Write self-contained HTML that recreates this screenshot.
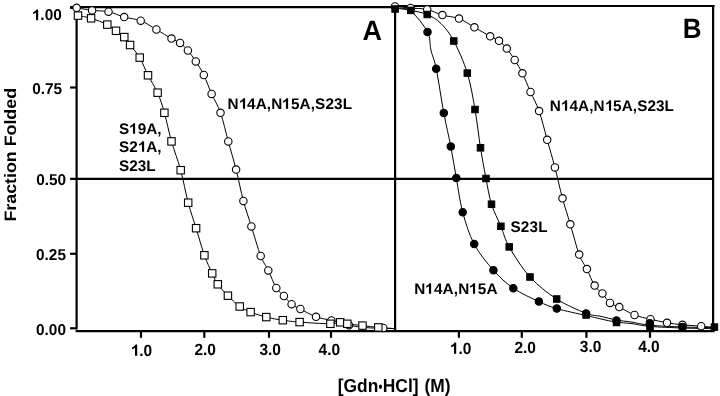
<!DOCTYPE html>
<html><head><meta charset="utf-8"><style>
html,body{margin:0;padding:0;background:#fff;}
body{width:720px;height:396px;position:relative;overflow:hidden;font-family:"Liberation Sans",sans-serif;font-weight:bold;color:#000;filter:grayscale(1) blur(0.3px);text-rendering:geometricPrecision;}
.t{position:absolute;white-space:nowrap;line-height:1;transform-origin:0 0;}
.k{-webkit-text-stroke:0.2px #fff;}
</style></head><body>
<svg width="720" height="396" viewBox="0 0 720 396" style="position:absolute;left:0;top:0">
<path d="M76.60,7.80 C79.18,8.23 86.78,9.75 92.10,10.40 C97.42,11.05 103.15,10.58 108.50,11.70 C113.85,12.82 118.83,15.60 124.20,17.10 C129.57,18.60 135.33,18.63 140.70,20.70 C146.07,22.77 151.27,26.52 156.40,29.50 C161.53,32.48 167.55,36.37 171.50,38.60 C175.45,40.83 177.37,40.92 180.10,42.90 C182.83,44.88 185.28,47.42 187.90,50.50 C190.52,53.58 193.15,57.32 195.80,61.40 C198.45,65.48 201.17,69.58 203.80,75.00 C206.43,80.42 208.82,87.60 211.60,93.90 C214.38,100.20 217.72,104.88 220.50,112.80 C223.28,120.72 225.70,131.93 228.30,141.40 C230.90,150.87 233.58,159.68 236.10,169.60 C238.62,179.52 240.85,191.43 243.40,200.90 C245.95,210.37 248.52,217.22 251.40,226.40 C254.28,235.58 257.88,248.67 260.70,256.00 C263.52,263.33 265.70,265.07 268.30,270.40 C270.90,275.73 273.70,283.73 276.30,288.00 C278.90,292.27 281.35,293.30 283.90,296.00 C286.45,298.70 288.85,302.03 291.60,304.20 C294.35,306.37 296.33,306.90 300.40,309.00 C304.47,311.10 310.83,314.90 316.00,316.80 C321.17,318.70 325.90,319.00 331.40,320.40 C336.90,321.80 343.23,324.00 349.00,325.20 C354.77,326.40 360.28,327.08 366.00,327.60 C371.72,328.12 378.47,328.13 383.30,328.30 C388.13,328.47 393.05,328.55 395.00,328.60" fill="none" stroke="#000" stroke-width="1"/>
<path d="M78.00,15.60 C80.18,16.05 86.22,16.80 91.10,18.30 C95.98,19.80 103.15,22.52 107.30,24.60 C111.45,26.68 113.17,28.72 116.00,30.80 C118.83,32.88 121.95,34.73 124.30,37.10 C126.65,39.47 127.53,41.58 130.10,45.00 C132.67,48.42 136.72,52.55 139.70,57.60 C142.68,62.65 145.02,69.45 148.00,75.30 C150.98,81.15 154.87,86.45 157.60,92.70 C160.33,98.95 162.08,104.68 164.40,112.80 C166.72,120.92 168.78,131.83 171.50,141.40 C174.22,150.97 177.92,159.98 180.70,170.20 C183.48,180.42 185.63,193.03 188.20,202.70 C190.77,212.37 193.40,219.43 196.10,228.20 C198.80,236.97 201.72,247.77 204.40,255.30 C207.08,262.83 209.97,268.57 212.20,273.40 C214.43,278.23 215.18,280.58 217.80,284.30 C220.42,288.02 224.25,292.00 227.90,295.70 C231.55,299.40 235.92,303.77 239.70,306.50 C243.48,309.23 246.17,310.33 250.60,312.10 C255.03,313.87 260.93,315.75 266.30,317.10 C271.67,318.45 277.25,319.37 282.80,320.20 C288.35,321.03 291.67,321.50 299.60,322.10 C307.53,322.70 323.63,323.77 330.40,323.80 C337.17,323.83 337.38,322.30 340.20,322.30 C343.02,322.30 343.58,323.25 347.30,323.80 C351.02,324.35 357.33,325.00 362.50,325.60 C367.67,326.20 372.88,326.90 378.30,327.40 C383.72,327.90 392.22,328.40 395.00,328.60" fill="none" stroke="#000" stroke-width="1"/>
<path d="M395.00,6.40 C397.58,6.67 405.13,7.48 410.50,8.00 C415.87,8.52 421.88,8.32 427.20,9.50 C432.52,10.68 437.10,13.58 442.40,15.10 C447.70,16.62 453.67,16.57 459.00,18.60 C464.33,20.63 469.20,24.35 474.40,27.30 C479.60,30.25 486.10,34.05 490.20,36.30 C494.30,38.55 496.23,38.75 499.00,40.80 C501.77,42.85 504.18,45.40 506.80,48.60 C509.42,51.80 512.10,55.88 514.70,60.00 C517.30,64.12 519.77,67.97 522.40,73.30 C525.03,78.63 527.72,85.70 530.50,92.00 C533.28,98.30 536.32,103.13 539.10,111.10 C541.88,119.07 544.57,130.42 547.20,139.80 C549.83,149.18 552.35,157.65 554.90,167.40 C557.45,177.15 559.93,188.82 562.50,198.30 C565.07,207.78 567.52,214.92 570.30,224.30 C573.08,233.68 576.43,247.13 579.20,254.60 C581.97,262.07 584.33,263.93 586.90,269.10 C589.47,274.27 592.02,281.55 594.60,285.60 C597.18,289.65 599.83,290.52 602.40,293.40 C604.97,296.28 607.18,300.62 610.00,302.90 C612.82,305.18 615.22,305.08 619.30,307.10 C623.38,309.12 629.30,312.98 634.50,315.00 C639.70,317.02 645.08,317.90 650.50,319.20 C655.92,320.50 661.67,321.87 667.00,322.80 C672.33,323.73 676.80,324.23 682.50,324.80 C688.20,325.37 695.62,325.75 701.20,326.20 C706.78,326.65 713.53,327.28 716.00,327.50" fill="none" stroke="#000" stroke-width="1"/>
<path d="M395.10,8.00 C397.72,8.40 405.45,9.32 410.80,10.40 C416.15,11.48 422.17,12.30 427.20,14.50 C432.23,16.70 436.57,19.18 441.00,23.60 C445.43,28.02 449.42,32.75 453.80,41.00 C458.18,49.25 463.77,61.68 467.30,73.10 C470.83,84.52 472.80,97.05 475.00,109.50 C477.20,121.95 478.67,136.30 480.50,147.80 C482.33,159.30 484.17,169.10 486.00,178.50 C487.83,187.90 489.02,196.23 491.50,204.20 C493.98,212.17 497.95,219.18 500.90,226.30 C503.85,233.42 504.35,238.45 509.20,246.90 C514.05,255.35 522.08,268.32 530.00,277.00 C537.92,285.68 547.35,292.95 556.70,299.00 C566.05,305.05 578.72,310.40 586.10,313.30 C593.48,316.20 595.93,315.28 601.00,316.40 C606.07,317.52 611.50,319.07 616.50,320.00 C621.50,320.93 625.42,321.13 631.00,322.00 C636.58,322.87 641.42,324.37 650.00,325.20 C658.58,326.03 671.77,326.60 682.50,327.00 C693.23,327.40 709.08,327.50 714.40,327.60" fill="none" stroke="#000" stroke-width="1"/>
<path d="M395.00,8.00 C397.58,8.50 405.08,7.02 410.50,11.00 C415.92,14.98 424.10,25.40 427.50,31.90 C430.90,38.40 429.45,43.87 430.90,50.00 C432.35,56.13 434.05,58.22 436.20,68.70 C438.35,79.18 441.37,99.92 443.80,112.90 C446.23,125.88 448.72,135.77 450.80,146.60 C452.88,157.43 454.32,166.97 456.30,177.90 C458.28,188.83 459.72,201.17 462.70,212.20 C465.68,223.23 469.08,234.43 474.20,244.10 C479.32,253.77 486.88,262.85 493.40,270.20 C499.92,277.55 505.72,282.97 513.30,288.20 C520.88,293.43 531.65,298.20 538.90,301.60 C546.15,305.00 548.93,306.28 556.80,308.60 C564.67,310.92 578.73,313.77 586.10,315.50 C593.47,317.23 595.93,317.88 601.00,319.00 C606.07,320.12 611.50,321.45 616.50,322.20 C621.50,322.95 625.42,322.80 631.00,323.50 C636.58,324.20 641.42,325.65 650.00,326.40 C658.58,327.15 671.77,327.63 682.50,328.00 C693.23,328.37 709.08,328.50 714.40,328.60" fill="none" stroke="#000" stroke-width="1"/>
<g stroke="#000" stroke-width="2.2" fill="none">
<line x1="76.6" y1="6.2" x2="76.6" y2="329.3"/>
<line x1="70.1" y1="7.2" x2="395" y2="7.2"/>
<line x1="395" y1="6" x2="714.5" y2="6"/>
<line x1="395.1" y1="5" x2="395.1" y2="331"/>
<line x1="713.1" y1="5" x2="713.1" y2="332"/>
<line x1="75.6" y1="331.2" x2="714.5" y2="331.2"/>
<line x1="70.1" y1="178.85" x2="714" y2="178.85"/>
<line x1="70.1" y1="7.9" x2="77" y2="7.9"/>
<line x1="70.1" y1="87.5" x2="77" y2="87.5"/>
<line x1="70.1" y1="253.8" x2="77" y2="253.8"/>
<line x1="70.1" y1="328.3" x2="77" y2="328.3"/>
<line x1="141.0" y1="331" x2="141.0" y2="337.8"/>
<line x1="204.3" y1="331" x2="204.3" y2="337.8"/>
<line x1="269.0" y1="331" x2="269.0" y2="337.8"/>
<line x1="331.0" y1="331" x2="331.0" y2="337.8"/>
<line x1="458.9" y1="331" x2="458.9" y2="337.8"/>
<line x1="521.8" y1="331" x2="521.8" y2="337.8"/>
<line x1="586.4" y1="331" x2="586.4" y2="337.8"/>
<line x1="650.0" y1="331" x2="650.0" y2="337.8"/>
</g>
<circle cx="76.6" cy="7.8" r="3.70" fill="#fff" stroke="#000" stroke-width="1.10"/><circle cx="92.1" cy="10.4" r="3.70" fill="#fff" stroke="#000" stroke-width="1.10"/><circle cx="108.5" cy="11.7" r="3.70" fill="#fff" stroke="#000" stroke-width="1.10"/><circle cx="124.2" cy="17.1" r="3.70" fill="#fff" stroke="#000" stroke-width="1.10"/><circle cx="140.7" cy="20.7" r="3.70" fill="#fff" stroke="#000" stroke-width="1.10"/><circle cx="156.4" cy="29.5" r="3.70" fill="#fff" stroke="#000" stroke-width="1.10"/><circle cx="171.5" cy="38.6" r="3.70" fill="#fff" stroke="#000" stroke-width="1.10"/><circle cx="180.1" cy="42.9" r="3.70" fill="#fff" stroke="#000" stroke-width="1.10"/><circle cx="187.9" cy="50.5" r="3.70" fill="#fff" stroke="#000" stroke-width="1.10"/><circle cx="195.8" cy="61.4" r="3.70" fill="#fff" stroke="#000" stroke-width="1.10"/><circle cx="203.8" cy="75.0" r="3.70" fill="#fff" stroke="#000" stroke-width="1.10"/><circle cx="211.6" cy="93.9" r="3.70" fill="#fff" stroke="#000" stroke-width="1.10"/><circle cx="220.5" cy="112.8" r="3.70" fill="#fff" stroke="#000" stroke-width="1.10"/><circle cx="228.3" cy="141.4" r="3.70" fill="#fff" stroke="#000" stroke-width="1.10"/><circle cx="236.1" cy="169.6" r="3.70" fill="#fff" stroke="#000" stroke-width="1.10"/><circle cx="243.4" cy="200.9" r="3.70" fill="#fff" stroke="#000" stroke-width="1.10"/><circle cx="251.4" cy="226.4" r="3.70" fill="#fff" stroke="#000" stroke-width="1.10"/><circle cx="260.7" cy="256.0" r="3.70" fill="#fff" stroke="#000" stroke-width="1.10"/><circle cx="268.3" cy="270.4" r="3.70" fill="#fff" stroke="#000" stroke-width="1.10"/><circle cx="276.3" cy="288.0" r="3.70" fill="#fff" stroke="#000" stroke-width="1.10"/><circle cx="283.9" cy="296.0" r="3.70" fill="#fff" stroke="#000" stroke-width="1.10"/><circle cx="291.6" cy="304.2" r="3.70" fill="#fff" stroke="#000" stroke-width="1.10"/><circle cx="300.4" cy="309.0" r="3.70" fill="#fff" stroke="#000" stroke-width="1.10"/><circle cx="316.0" cy="316.8" r="3.70" fill="#fff" stroke="#000" stroke-width="1.10"/><circle cx="331.4" cy="320.4" r="3.70" fill="#fff" stroke="#000" stroke-width="1.10"/><circle cx="349.0" cy="325.2" r="3.70" fill="#fff" stroke="#000" stroke-width="1.10"/><circle cx="383.3" cy="328.0" r="3.70" fill="#fff" stroke="#000" stroke-width="1.10"/>
<rect x="74.30" y="11.90" width="7.40" height="7.40" fill="#fff" stroke="#000" stroke-width="1.10"/><rect x="87.40" y="14.60" width="7.40" height="7.40" fill="#fff" stroke="#000" stroke-width="1.10"/><rect x="103.60" y="20.90" width="7.40" height="7.40" fill="#fff" stroke="#000" stroke-width="1.10"/><rect x="112.30" y="27.10" width="7.40" height="7.40" fill="#fff" stroke="#000" stroke-width="1.10"/><rect x="120.60" y="33.40" width="7.40" height="7.40" fill="#fff" stroke="#000" stroke-width="1.10"/><rect x="126.40" y="41.30" width="7.40" height="7.40" fill="#fff" stroke="#000" stroke-width="1.10"/><rect x="136.00" y="53.90" width="7.40" height="7.40" fill="#fff" stroke="#000" stroke-width="1.10"/><rect x="144.30" y="71.60" width="7.40" height="7.40" fill="#fff" stroke="#000" stroke-width="1.10"/><rect x="153.90" y="89.00" width="7.40" height="7.40" fill="#fff" stroke="#000" stroke-width="1.10"/><rect x="160.70" y="109.10" width="7.40" height="7.40" fill="#fff" stroke="#000" stroke-width="1.10"/><rect x="167.80" y="137.70" width="7.40" height="7.40" fill="#fff" stroke="#000" stroke-width="1.10"/><rect x="177.00" y="166.50" width="7.40" height="7.40" fill="#fff" stroke="#000" stroke-width="1.10"/><rect x="184.50" y="199.00" width="7.40" height="7.40" fill="#fff" stroke="#000" stroke-width="1.10"/><rect x="192.40" y="224.50" width="7.40" height="7.40" fill="#fff" stroke="#000" stroke-width="1.10"/><rect x="200.70" y="251.60" width="7.40" height="7.40" fill="#fff" stroke="#000" stroke-width="1.10"/><rect x="208.50" y="269.70" width="7.40" height="7.40" fill="#fff" stroke="#000" stroke-width="1.10"/><rect x="214.10" y="280.60" width="7.40" height="7.40" fill="#fff" stroke="#000" stroke-width="1.10"/><rect x="224.20" y="292.00" width="7.40" height="7.40" fill="#fff" stroke="#000" stroke-width="1.10"/><rect x="236.00" y="302.80" width="7.40" height="7.40" fill="#fff" stroke="#000" stroke-width="1.10"/><rect x="246.90" y="308.40" width="7.40" height="7.40" fill="#fff" stroke="#000" stroke-width="1.10"/><rect x="262.60" y="313.40" width="7.40" height="7.40" fill="#fff" stroke="#000" stroke-width="1.10"/><rect x="279.10" y="316.50" width="7.40" height="7.40" fill="#fff" stroke="#000" stroke-width="1.10"/><rect x="295.90" y="318.40" width="7.40" height="7.40" fill="#fff" stroke="#000" stroke-width="1.10"/><rect x="326.70" y="320.10" width="7.40" height="7.40" fill="#fff" stroke="#000" stroke-width="1.10"/><rect x="336.50" y="318.60" width="7.40" height="7.40" fill="#fff" stroke="#000" stroke-width="1.10"/><rect x="343.60" y="320.10" width="7.40" height="7.40" fill="#fff" stroke="#000" stroke-width="1.10"/><rect x="358.80" y="321.90" width="7.40" height="7.40" fill="#fff" stroke="#000" stroke-width="1.10"/><rect x="374.60" y="323.70" width="7.40" height="7.40" fill="#fff" stroke="#000" stroke-width="1.10"/>
<circle cx="395.0" cy="6.4" r="3.70" fill="#fff" stroke="#000" stroke-width="1.10"/><circle cx="410.5" cy="8.0" r="3.70" fill="#fff" stroke="#000" stroke-width="1.10"/><circle cx="427.2" cy="9.5" r="3.70" fill="#fff" stroke="#000" stroke-width="1.10"/><circle cx="442.4" cy="15.1" r="3.70" fill="#fff" stroke="#000" stroke-width="1.10"/><circle cx="459.0" cy="18.6" r="3.70" fill="#fff" stroke="#000" stroke-width="1.10"/><circle cx="474.4" cy="27.3" r="3.70" fill="#fff" stroke="#000" stroke-width="1.10"/><circle cx="490.2" cy="36.3" r="3.70" fill="#fff" stroke="#000" stroke-width="1.10"/><circle cx="499.0" cy="40.8" r="3.70" fill="#fff" stroke="#000" stroke-width="1.10"/><circle cx="506.8" cy="48.6" r="3.70" fill="#fff" stroke="#000" stroke-width="1.10"/><circle cx="514.7" cy="60.0" r="3.70" fill="#fff" stroke="#000" stroke-width="1.10"/><circle cx="522.4" cy="73.3" r="3.70" fill="#fff" stroke="#000" stroke-width="1.10"/><circle cx="530.5" cy="92.0" r="3.70" fill="#fff" stroke="#000" stroke-width="1.10"/><circle cx="539.1" cy="111.1" r="3.70" fill="#fff" stroke="#000" stroke-width="1.10"/><circle cx="547.2" cy="139.8" r="3.70" fill="#fff" stroke="#000" stroke-width="1.10"/><circle cx="554.9" cy="167.4" r="3.70" fill="#fff" stroke="#000" stroke-width="1.10"/><circle cx="562.5" cy="198.3" r="3.70" fill="#fff" stroke="#000" stroke-width="1.10"/><circle cx="570.3" cy="224.3" r="3.70" fill="#fff" stroke="#000" stroke-width="1.10"/><circle cx="579.2" cy="254.6" r="3.70" fill="#fff" stroke="#000" stroke-width="1.10"/><circle cx="586.9" cy="269.1" r="3.70" fill="#fff" stroke="#000" stroke-width="1.10"/><circle cx="594.6" cy="285.6" r="3.70" fill="#fff" stroke="#000" stroke-width="1.10"/><circle cx="602.4" cy="293.4" r="3.70" fill="#fff" stroke="#000" stroke-width="1.10"/><circle cx="610.0" cy="302.9" r="3.70" fill="#fff" stroke="#000" stroke-width="1.10"/><circle cx="619.3" cy="307.1" r="3.70" fill="#fff" stroke="#000" stroke-width="1.10"/><circle cx="634.5" cy="315.0" r="3.70" fill="#fff" stroke="#000" stroke-width="1.10"/><circle cx="650.5" cy="319.2" r="3.70" fill="#fff" stroke="#000" stroke-width="1.10"/><circle cx="667.0" cy="322.8" r="3.70" fill="#fff" stroke="#000" stroke-width="1.10"/><circle cx="682.5" cy="324.8" r="3.70" fill="#fff" stroke="#000" stroke-width="1.10"/><circle cx="701.2" cy="326.2" r="3.70" fill="#fff" stroke="#000" stroke-width="1.10"/>
<circle cx="427.5" cy="31.9" r="3.70" fill="#000" stroke="#000" stroke-width="1.10"/><circle cx="436.2" cy="68.7" r="3.70" fill="#000" stroke="#000" stroke-width="1.10"/><circle cx="443.8" cy="112.9" r="3.70" fill="#000" stroke="#000" stroke-width="1.10"/><circle cx="450.8" cy="146.6" r="3.70" fill="#000" stroke="#000" stroke-width="1.10"/><circle cx="456.3" cy="177.9" r="3.70" fill="#000" stroke="#000" stroke-width="1.10"/><circle cx="462.7" cy="212.2" r="3.70" fill="#000" stroke="#000" stroke-width="1.10"/><circle cx="474.2" cy="244.1" r="3.70" fill="#000" stroke="#000" stroke-width="1.10"/><circle cx="493.4" cy="270.2" r="3.70" fill="#000" stroke="#000" stroke-width="1.10"/><circle cx="513.3" cy="288.2" r="3.70" fill="#000" stroke="#000" stroke-width="1.10"/><circle cx="538.9" cy="301.6" r="3.70" fill="#000" stroke="#000" stroke-width="1.10"/><circle cx="556.8" cy="308.6" r="3.70" fill="#000" stroke="#000" stroke-width="1.10"/><circle cx="586.1" cy="313.4" r="3.70" fill="#000" stroke="#000" stroke-width="1.10"/><circle cx="616.5" cy="320.5" r="3.70" fill="#000" stroke="#000" stroke-width="1.10"/><circle cx="649.8" cy="323.2" r="3.70" fill="#000" stroke="#000" stroke-width="1.10"/><circle cx="682.5" cy="327.0" r="3.70" fill="#000" stroke="#000" stroke-width="1.10"/>
<rect x="391.85" y="5.75" width="6.50" height="6.50" fill="#000" stroke="#000" stroke-width="1.00"/><rect x="407.55" y="7.15" width="6.50" height="6.50" fill="#000" stroke="#000" stroke-width="1.00"/><rect x="423.95" y="11.25" width="6.50" height="6.50" fill="#000" stroke="#000" stroke-width="1.00"/><rect x="450.55" y="37.75" width="6.50" height="6.50" fill="#000" stroke="#000" stroke-width="1.00"/><rect x="464.05" y="69.85" width="6.50" height="6.50" fill="#000" stroke="#000" stroke-width="1.00"/><rect x="471.75" y="106.25" width="6.50" height="6.50" fill="#000" stroke="#000" stroke-width="1.00"/><rect x="477.25" y="144.55" width="6.50" height="6.50" fill="#000" stroke="#000" stroke-width="1.00"/><rect x="482.75" y="175.25" width="6.50" height="6.50" fill="#000" stroke="#000" stroke-width="1.00"/><rect x="488.25" y="200.95" width="6.50" height="6.50" fill="#000" stroke="#000" stroke-width="1.00"/><rect x="497.65" y="223.05" width="6.50" height="6.50" fill="#000" stroke="#000" stroke-width="1.00"/><rect x="505.95" y="243.65" width="6.50" height="6.50" fill="#000" stroke="#000" stroke-width="1.00"/><rect x="526.75" y="273.75" width="6.50" height="6.50" fill="#000" stroke="#000" stroke-width="1.00"/><rect x="553.45" y="295.75" width="6.50" height="6.50" fill="#000" stroke="#000" stroke-width="1.00"/><rect x="582.85" y="311.75" width="6.50" height="6.50" fill="#000" stroke="#000" stroke-width="1.00"/><rect x="613.25" y="319.25" width="6.50" height="6.50" fill="#000" stroke="#000" stroke-width="1.00"/><rect x="646.75" y="323.75" width="6.50" height="6.50" fill="#000" stroke="#000" stroke-width="1.00"/><rect x="679.25" y="324.25" width="6.50" height="6.50" fill="#000" stroke="#000" stroke-width="1.00"/><rect x="711.15" y="323.85" width="6.50" height="6.50" fill="#000" stroke="#000" stroke-width="1.00"/>
</svg>
<div class="t" style="font-size:15.40px;left:32.20px;top:6.20px;transform:scale(1.000,1.020)"><svg viewBox="0 -1854 1139 2288" style="width:0.5562em;height:1.1172em;vertical-align:-0.2119em;overflow:visible;margin-right:-0.4px"><path transform="scale(1,-1)" d="M 820 0 L 530 0 L 530 1000 C 430 910 300 850 150 805 L 150 1050 C 240 1080 320 1125 405 1190 C 490 1255 550 1330 590 1409 L 820 1409 Z"/></svg>.00</div>
<div class="t" style="font-size:15.40px;left:32.20px;top:82.20px;transform:scale(1.000,1.020)">0.75</div>
<div class="t" style="font-size:15.40px;left:36.20px;top:173.00px;transform:scale(1.000,1.020)">0.50</div>
<div class="t" style="font-size:15.40px;left:36.00px;top:248.00px;transform:scale(1.000,1.020)">0.25</div>
<div class="t" style="font-size:15.40px;left:36.00px;top:323.20px;transform:scale(1.000,1.020)">0.00</div>
<div class="t" style="font-size:15.50px;left:130.60px;top:341.40px;transform:scale(1.000,1.045)"><svg viewBox="0 -1854 1139 2288" style="width:0.5562em;height:1.1172em;vertical-align:-0.2119em;overflow:visible"><path transform="scale(1,-1)" d="M 820 0 L 530 0 L 530 1000 C 430 910 300 850 150 805 L 150 1050 C 240 1080 320 1125 405 1190 C 490 1255 550 1330 590 1409 L 820 1409 Z"/></svg>.0</div>
<div class="t" style="font-size:15.50px;left:194.40px;top:342.40px;transform:scale(1.000,1.045)">2.0</div>
<div class="t" style="font-size:15.50px;left:259.40px;top:342.40px;transform:scale(1.000,1.045)">3.0</div>
<div class="t" style="font-size:15.50px;left:318.60px;top:342.40px;transform:scale(1.000,1.045)">4.0</div>
<div class="t" style="font-size:15.50px;left:449.80px;top:339.20px;transform:scale(1.000,1.045)"><svg viewBox="0 -1854 1139 2288" style="width:0.5562em;height:1.1172em;vertical-align:-0.2119em;overflow:visible"><path transform="scale(1,-1)" d="M 820 0 L 530 0 L 530 1000 C 430 910 300 850 150 805 L 150 1050 C 240 1080 320 1125 405 1190 C 490 1255 550 1330 590 1409 L 820 1409 Z"/></svg>.0</div>
<div class="t" style="font-size:15.50px;left:514.40px;top:340.20px;transform:scale(1.000,1.045)">2.0</div>
<div class="t" style="font-size:15.50px;left:579.80px;top:339.00px;transform:scale(1.000,1.045)">3.0</div>
<div class="t" style="font-size:15.50px;left:638.20px;top:339.00px;transform:scale(1.000,1.045)">4.0</div>
<div class="t" style="font-size:27.00px;left:362.40px;top:17.20px;transform:scale(1.000,1.040)">A</div>
<div class="t" style="font-size:26.00px;left:682.80px;top:14.40px;transform:scale(1.000,1.080)">B</div>
<div class="t" style="font-size:15.30px;left:227.40px;top:95.00px;transform:scale(1.000,1.000);letter-spacing:0.12px">N<svg viewBox="0 -1854 1139 2288" style="width:0.5562em;height:1.1172em;vertical-align:-0.2119em;overflow:visible"><path transform="scale(1,-1)" d="M 820 0 L 530 0 L 530 1000 C 430 910 300 850 150 805 L 150 1050 C 240 1080 320 1125 405 1190 C 490 1255 550 1330 590 1409 L 820 1409 Z"/></svg>4A,N<svg viewBox="0 -1854 1139 2288" style="width:0.5562em;height:1.1172em;vertical-align:-0.2119em;overflow:visible"><path transform="scale(1,-1)" d="M 820 0 L 530 0 L 530 1000 C 430 910 300 850 150 805 L 150 1050 C 240 1080 320 1125 405 1190 C 490 1255 550 1330 590 1409 L 820 1409 Z"/></svg>5A,S23L</div>
<div class="t" style="font-size:15.30px;left:549.80px;top:96.80px;transform:scale(1.000,1.000);letter-spacing:0.08px">N<svg viewBox="0 -1854 1139 2288" style="width:0.5562em;height:1.1172em;vertical-align:-0.2119em;overflow:visible"><path transform="scale(1,-1)" d="M 820 0 L 530 0 L 530 1000 C 430 910 300 850 150 805 L 150 1050 C 240 1080 320 1125 405 1190 C 490 1255 550 1330 590 1409 L 820 1409 Z"/></svg>4A,N<svg viewBox="0 -1854 1139 2288" style="width:0.5562em;height:1.1172em;vertical-align:-0.2119em;overflow:visible"><path transform="scale(1,-1)" d="M 820 0 L 530 0 L 530 1000 C 430 910 300 850 150 805 L 150 1050 C 240 1080 320 1125 405 1190 C 490 1255 550 1330 590 1409 L 820 1409 Z"/></svg>5A,S23L</div>
<div class="t" style="font-size:15.30px;left:119.00px;top:120.00px;transform:scale(1.000,1.000)">S<svg viewBox="0 -1854 1139 2288" style="width:0.5562em;height:1.1172em;vertical-align:-0.2119em;overflow:visible"><path transform="scale(1,-1)" d="M 820 0 L 530 0 L 530 1000 C 430 910 300 850 150 805 L 150 1050 C 240 1080 320 1125 405 1190 C 490 1255 550 1330 590 1409 L 820 1409 Z"/></svg>9A,</div>
<div class="t" style="font-size:15.30px;left:119.00px;top:138.00px;transform:scale(1.000,1.000)">S2<svg viewBox="0 -1854 1139 2288" style="width:0.5562em;height:1.1172em;vertical-align:-0.2119em;overflow:visible"><path transform="scale(1,-1)" d="M 820 0 L 530 0 L 530 1000 C 430 910 300 850 150 805 L 150 1050 C 240 1080 320 1125 405 1190 C 490 1255 550 1330 590 1409 L 820 1409 Z"/></svg>A,</div>
<div class="t" style="font-size:15.30px;left:119.00px;top:158.60px;transform:scale(1.000,1.000)">S23L</div>
<div class="t" style="font-size:15.30px;left:510.40px;top:219.80px;transform:scale(1.000,1.000);letter-spacing:0.20px">S23L</div>
<div class="t" style="font-size:15.30px;left:414.20px;top:279.60px;transform:scale(1.000,1.000);letter-spacing:0.15px">N<svg viewBox="0 -1854 1139 2288" style="width:0.5562em;height:1.1172em;vertical-align:-0.2119em;overflow:visible"><path transform="scale(1,-1)" d="M 820 0 L 530 0 L 530 1000 C 430 910 300 850 150 805 L 150 1050 C 240 1080 320 1125 405 1190 C 490 1255 550 1330 590 1409 L 820 1409 Z"/></svg>4A,N<svg viewBox="0 -1854 1139 2288" style="width:0.5562em;height:1.1172em;vertical-align:-0.2119em;overflow:visible"><path transform="scale(1,-1)" d="M 820 0 L 530 0 L 530 1000 C 430 910 300 850 150 805 L 150 1050 C 240 1080 320 1125 405 1190 C 490 1255 550 1330 590 1409 L 820 1409 Z"/></svg>5A</div>
<div class="t" style="font-size:17.40px;left:337.80px;top:376.80px;transform:scale(1.000,1.080)">[Gdn<span style="display:inline-block;width:4.4px;height:1px;position:relative"><i style="position:absolute;left:0.55px;top:-5.8px;width:3.3px;height:3.3px;border-radius:50%;background:#000"></i></span>HCl]<span style="margin-left:1.2px"> (M)</span></div>
<div class="t" style="font-size:16.50px;left:0;top:0;transform-origin:0 0;transform:translate(3.40px,221.60px) scale(1.000,1.080) rotate(-90deg)">Fraction Folded</div>
</body></html>
